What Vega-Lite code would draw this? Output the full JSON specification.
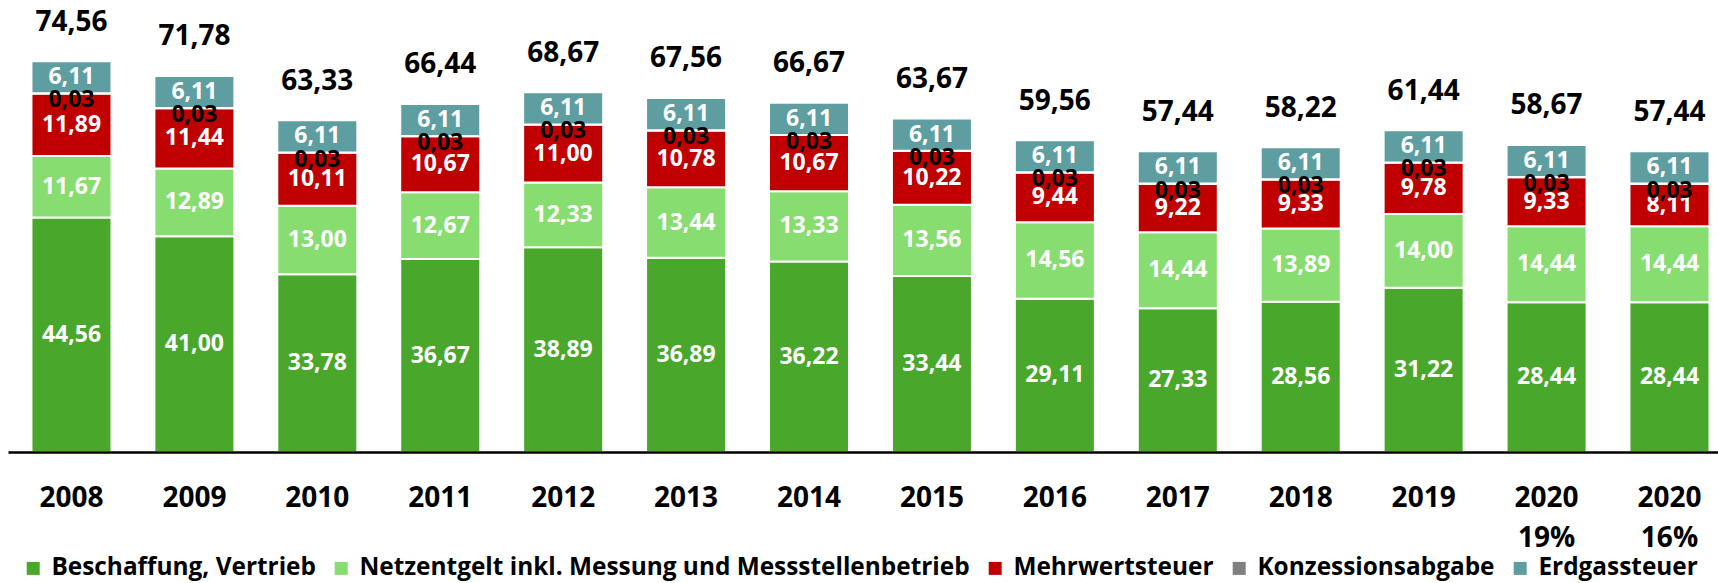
{
  "$schema": "https://vega.github.io/schema/vega-lite/v6.json",
  "width": 1710,
  "height": 421,
  "autosize": "none",
  "padding": {"left": 8, "top": 31, "right": 0, "bottom": 131},
  "config": {"view": {"stroke": null}, "font": "Open Sans"},
  "data": {
    "values": [
      {"cat": "2008", "b": 44.56, "n": 11.67, "m": 11.89, "k": 0.03, "e": 6.11, "total": 74.56},
      {"cat": "2009", "b": 41.00, "n": 12.89, "m": 11.44, "k": 0.03, "e": 6.11, "total": 71.78},
      {"cat": "2010", "b": 33.78, "n": 13.00, "m": 10.11, "k": 0.03, "e": 6.11, "total": 63.33},
      {"cat": "2011", "b": 36.67, "n": 12.67, "m": 10.67, "k": 0.03, "e": 6.11, "total": 66.44},
      {"cat": "2012", "b": 38.89, "n": 12.33, "m": 11.00, "k": 0.03, "e": 6.11, "total": 68.67},
      {"cat": "2013", "b": 36.89, "n": 13.44, "m": 10.78, "k": 0.03, "e": 6.11, "total": 67.56},
      {"cat": "2014", "b": 36.22, "n": 13.33, "m": 10.67, "k": 0.03, "e": 6.11, "total": 66.67},
      {"cat": "2015", "b": 33.44, "n": 13.56, "m": 10.22, "k": 0.03, "e": 6.11, "total": 63.67},
      {"cat": "2016", "b": 29.11, "n": 14.56, "m": 9.44, "k": 0.03, "e": 6.11, "total": 59.56},
      {"cat": "2017", "b": 27.33, "n": 14.44, "m": 9.22, "k": 0.03, "e": 6.11, "total": 57.44},
      {"cat": "2018", "b": 28.56, "n": 13.89, "m": 9.33, "k": 0.03, "e": 6.11, "total": 58.22},
      {"cat": "2019", "b": 31.22, "n": 14.00, "m": 9.78, "k": 0.03, "e": 6.11, "total": 61.44},
      {"cat": "2020 19%", "b": 28.44, "n": 14.44, "m": 9.33, "k": 0.03, "e": 6.11, "total": 58.67},
      {"cat": "2020 16%", "b": 28.44, "n": 14.44, "m": 8.11, "k": 0.03, "e": 6.11, "total": 57.44}
    ]
  },
  "encoding": {
    "x": {
      "field": "cat", "type": "nominal", "sort": null,
      "scale": {"paddingInner": 0.349, "paddingOuter": 0.13, "align": 0.734, "round": false},
      "axis": {
        "title": null, "labelAngle": 0, "ticks": false, "tickSize": 0,
        "domain": true, "domainColor": "#000000", "domainWidth": 2.5,
        "labelFont": "Open Sans", "labelFontSize": 28, "labelFontWeight": "bold", "labelColor": "#000000",
        "labelBaseline": "top", "labelPadding": 32, "labelLineHeight": 40,
        "labelExpr": "split(datum.value, ' ')", "zindex": 1
      }
    }
  },
  "layer": [
    {
      "transform": [
        {"fold": ["b", "n", "m", "k", "e"], "as": ["key", "value"]},
        {"calculate": "indexof(['b', 'n', 'm', 'k', 'e'], datum.key)", "as": "idx"},
        {"calculate": "['Beschaffung, Vertrieb', 'Netzentgelt inkl. Messung und Messstellenbetrieb', 'Mehrwertsteuer', 'Konzessionsabgabe', 'Erdgassteuer'][datum.idx]", "as": "comp"}
      ],
      "mark": {"type": "bar", "stroke": "#ffffff", "strokeWidth": 2},
      "encoding": {
        "y": {"field": "value", "type": "quantitative", "stack": "zero", "scale": {"domain": [0, 80], "nice": false}, "axis": null},
        "order": {"field": "idx", "type": "quantitative", "sort": "ascending"},
        "color": {
          "field": "comp", "type": "nominal",
          "scale": {
            "domain": ["Beschaffung, Vertrieb", "Netzentgelt inkl. Messung und Messstellenbetrieb", "Mehrwertsteuer", "Konzessionsabgabe", "Erdgassteuer"],
            "range": ["#49A72B", "#88DD71", "#C00000", "#808080", "#5F9EA0"]
          },
          "legend": {
            "title": null, "orient": "none", "direction": "horizontal", "legendX": 13, "legendY": 525,
            "symbolType": "square", "symbolSize": 169, "symbolStrokeWidth": 0,
            "labelFont": "Open Sans", "labelFontSize": 24.4, "labelFontWeight": "bold", "labelColor": "#000000",
            "labelOffset": 6, "columnPadding": 13, "padding": 0, "labelLimit": 1000
          }
        }
      }
    },
    {
      "transform": [
        {"fold": ["b", "n", "m", "k", "e"], "as": ["key", "value"]},
        {"calculate": "indexof(['b', 'n', 'm', 'k', 'e'], datum.key)", "as": "idx"},
        {"stack": "value", "groupby": ["cat"], "sort": [{"field": "idx", "order": "ascending"}], "as": ["v0", "v1"]},
        {"calculate": "(datum.v0 + datum.v1) / 2", "as": "mid"},
        {"calculate": "replace(format(datum.value, '.2f'), '.', ',')", "as": "lbl"},
        {"filter": "datum.key !== 'k'"}
      ],
      "mark": {"type": "text", "color": "#ffffff", "font": "Open Sans", "fontSize": 23, "fontWeight": "bold", "baseline": "middle", "align": "center"},
      "encoding": {
        "y": {"field": "mid", "type": "quantitative", "scale": {"domain": [0, 80], "nice": false}},
        "text": {"field": "lbl", "type": "nominal"}
      }
    },
    {
      "transform": [
        {"fold": ["b", "n", "m", "k", "e"], "as": ["key", "value"]},
        {"calculate": "indexof(['b', 'n', 'm', 'k', 'e'], datum.key)", "as": "idx"},
        {"stack": "value", "groupby": ["cat"], "sort": [{"field": "idx", "order": "ascending"}], "as": ["v0", "v1"]},
        {"calculate": "(datum.v0 + datum.v1) / 2", "as": "mid"},
        {"calculate": "replace(format(datum.value, '.2f'), '.', ',')", "as": "lbl"},
        {"filter": "datum.key === 'k'"}
      ],
      "mark": {"type": "text", "color": "#000000", "font": "Open Sans", "fontSize": 23, "fontWeight": "bold", "baseline": "middle", "align": "center", "dy": 7},
      "encoding": {
        "y": {"field": "mid", "type": "quantitative", "scale": {"domain": [0, 80], "nice": false}},
        "text": {"field": "lbl", "type": "nominal"}
      }
    },
    {
      "transform": [
        {"calculate": "replace(format(datum.total, '.2f'), '.', ',')", "as": "lbl"}
      ],
      "mark": {"type": "text", "color": "#000000", "font": "Open Sans", "fontSize": 28, "fontWeight": "bold", "baseline": "middle", "align": "center", "dy": -37},
      "encoding": {
        "y": {"field": "total", "type": "quantitative", "scale": {"domain": [0, 80], "nice": false}},
        "text": {"field": "lbl", "type": "nominal"}
      }
    }
  ]
}
